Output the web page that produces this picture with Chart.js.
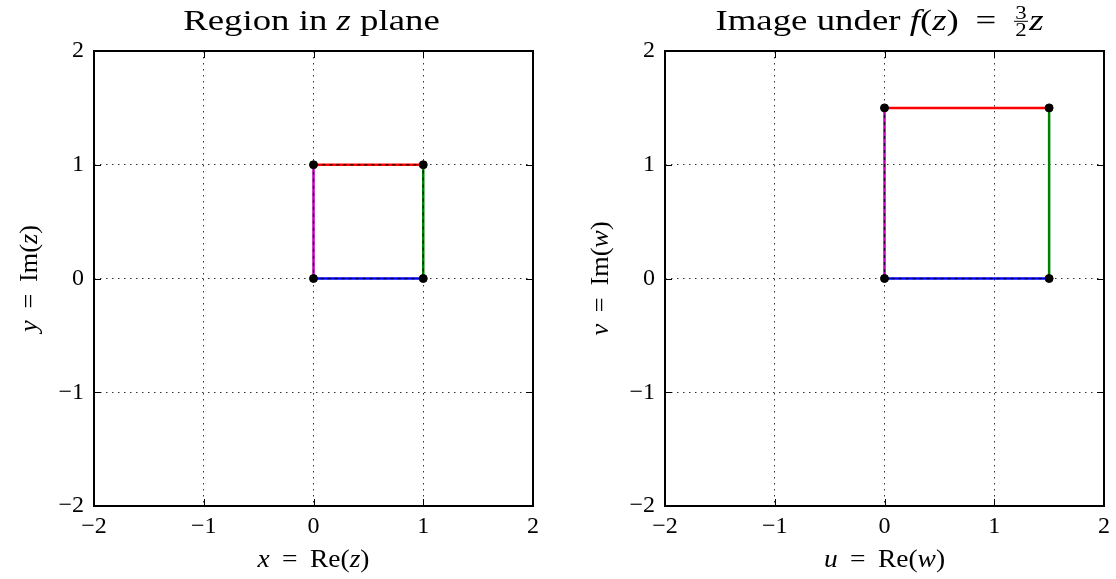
<!DOCTYPE html>
<html>
<head>
<meta charset="utf-8">
<script src="https://cdn.jsdelivr.net/npm/chart.js@4"></script>
<style>
    body { margin: 0; background: #fff; }
    .wrap { position: absolute; top: 0; width: 558px; height: 579px; }
</style>
</head>
<body>
<div class="wrap" style="left:0"><canvas id="zChart"></canvas></div>
<div class="wrap" style="left:558px"><canvas id="wChart"></canvas></div>
<script>
// corners of the square in the z plane and of its image in the w plane
const zX = [0, 1, 1, 0];
const zY = [0, 0, 1, 1];
const wX = [0, 1.5, 1.5, 0];
const wY = [0, 0, 1.5, 1.5];
// edge i runs from corner i to corner i+1: bottom, right, top, left
const edgeColors = ['#0000ff', '#008000', '#ff0000', '#bf00bf'];
const zDashed = [true, true, true, true];
const wDashed = [true, false, false, true];
const axisMin = -2;
const axisMax = 2;

const SERIF = '"Liberation Serif", "DejaVu Serif", serif';
const EQ = ' \u2009=\u2009 ';

function buildDatasets(xs, ys, dashed) {
    const sets = [];
    const edge = i => [
        { x: xs[i], y: ys[i] },
        { x: xs[(i + 1) % 4], y: ys[(i + 1) % 4] }
    ];
    for (let i = 0; i < 4; i++) {
        sets.push({
            data: edge(i), showLine: true, borderColor: edgeColors[i],
            borderWidth: 2.5, pointRadius: 0, order: 3
        });
    }
    for (let i = 0; i < 4; i++) {
        if (!dashed[i]) continue;
        sets.push({
            data: edge(i), showLine: true, borderColor: 'rgba(0,0,0,0.75)',
            borderWidth: 1.3, borderDash: [3, 4], pointRadius: 0, order: 2
        });
    }
    sets.push({
        data: xs.map((x, i) => ({ x: x, y: ys[i] })),
        showLine: false, pointRadius: 4, pointBackgroundColor: '#000',
        pointBorderColor: '#000', order: 1
    });
    return sets;
}

// draws text made of roman / italic pieces (and an optional small fraction), centred on x
function drawRich(ctx, parts, x, y, size, stretch) {
    let total = 0;
    const small = Math.round(size * 0.62);
    parts.forEach(p => {
        if (p.frac) {
            ctx.font = small + 'px ' + SERIF;
            p.w = Math.max(ctx.measureText(p.frac[0]).width, ctx.measureText(p.frac[1]).width) + 4;
        } else {
            ctx.font = (p.i ? 'italic ' : '') + size + 'px ' + SERIF;
            p.w = ctx.measureText(p.t).width;
        }
        total += p.w;
    });
    ctx.save();
    ctx.translate(x, y);
    ctx.scale(stretch, 1);
    let cx = -total / 2;
    ctx.fillStyle = '#000';
    ctx.textAlign = 'left';
    ctx.textBaseline = 'alphabetic';
    parts.forEach(p => {
        if (p.frac) {
            ctx.font = small + 'px ' + SERIF;
            ctx.textAlign = 'center';
            const mid = cx + p.w / 2;
            const bar = -size * 0.3;
            ctx.fillText(p.frac[0], mid, bar - 2);
            ctx.fillText(p.frac[1], mid, bar + small * 0.7 + 2);
            ctx.fillRect(cx + 1, bar - 0.5, p.w - 2, 1);
            ctx.textAlign = 'left';
        } else {
            ctx.font = (p.i ? 'italic ' : '') + size + 'px ' + SERIF;
            ctx.fillText(p.t, cx, 0);
        }
        cx += p.w;
    });
    ctx.restore();
}

// frame, inward ticks and mathtext labels
const framePlugin = {
    id: 'frame',
    afterDraw(chart) {
        const ctx = chart.ctx;
        const a = chart.chartArea;
        const xs = chart.scales.x;
        const ys = chart.scales.y;
        const lab = chart.options.plugins.frame;
        ctx.save();
        ctx.setLineDash([]);
        ctx.strokeStyle = '#000';
        ctx.lineWidth = 1;
        xs.ticks.forEach(t => {
            const px = Math.round(xs.getPixelForValue(t.value)) + 0.5;
            ctx.beginPath();
            ctx.moveTo(px, a.bottom); ctx.lineTo(px, a.bottom - 7);
            ctx.moveTo(px, a.top); ctx.lineTo(px, a.top + 7);
            ctx.stroke();
        });
        ys.ticks.forEach(t => {
            const py = Math.round(ys.getPixelForValue(t.value)) + 0.5;
            ctx.beginPath();
            ctx.moveTo(a.left, py); ctx.lineTo(a.left + 7, py);
            ctx.moveTo(a.right, py); ctx.lineTo(a.right - 7, py);
            ctx.stroke();
        });
        ctx.lineWidth = 2;
        ctx.strokeRect(a.left, a.top, a.right - a.left, a.bottom - a.top);

        const cx = (a.left + a.right) / 2;
        drawRich(ctx, lab.title, cx + lab.titleShift, a.top - 21, 29, 1.27);
        drawRich(ctx, lab.xLabel, cx, a.bottom + 61, 25, 1.1);
        ctx.save();
        ctx.translate(a.left - 57, (a.top + a.bottom) / 2);
        ctx.rotate(-Math.PI / 2);
        drawRich(ctx, lab.yLabel, 0, 0, 25, 1.05);
        ctx.restore();
        ctx.restore();
    }
};

function makeChart(id, xs, ys, dashed, yAxisWidth, padRight, labels) {
    const tickFmt = v => (v < 0 ? '\u2212' + Math.abs(v) : String(v));
    const axis = (fit, pad) => ({
        type: 'linear',
        min: axisMin,
        max: axisMax,
        afterFit: fit,
        ticks: {
            stepSize: 1,
            padding: pad,
            color: '#000',
            font: { family: SERIF, size: 24 },
            callback: tickFmt
        },
        grid: { color: '#333', lineWidth: 1, drawTicks: false },
        border: { display: false, dash: [1.5, 4.5] }
    });
    return new Chart(document.getElementById(id), {
        type: 'scatter',
        data: { datasets: buildDatasets(xs, ys, dashed) },
        options: {
            responsive: true,
            maintainAspectRatio: false,
            animation: false,
            layout: { padding: { top: 51, right: padRight, bottom: 0, left: 0 } },
            scales: {
                x: axis(s => { s.height = 73; }, 6),
                y: axis(s => { s.width = yAxisWidth; }, 10)
            },
            plugins: {
                legend: { display: false },
                tooltip: { enabled: false },
                frame: labels
            }
        },
        plugins: [framePlugin]
    });
}

makeChart('zChart', zX, zY, zDashed, 94, 25, {
    titleShift: -2,
    title: [{ t: 'Region in ' }, { t: 'z', i: true }, { t: ' plane' }],
    xLabel: [{ t: 'x', i: true }, { t: EQ + 'Re(' }, { t: 'z', i: true }, { t: ')' }],
    yLabel: [{ t: 'y', i: true }, { t: EQ + 'Im(' }, { t: 'z', i: true }, { t: ')' }]
});

makeChart('wChart', wX, wY, wDashed, 107, 12, {
    titleShift: -5,
    title: [{ t: 'Image under ' }, { t: 'f', i: true }, { t: '(' }, { t: 'z', i: true },
        { t: ')' + EQ }, { frac: ['3', '2'] }, { t: 'z', i: true }],
    xLabel: [{ t: 'u', i: true }, { t: EQ + 'Re(' }, { t: 'w', i: true }, { t: ')' }],
    yLabel: [{ t: 'v', i: true }, { t: EQ + 'Im(' }, { t: 'w', i: true }, { t: ')' }]
});
</script>
</body>
</html>
